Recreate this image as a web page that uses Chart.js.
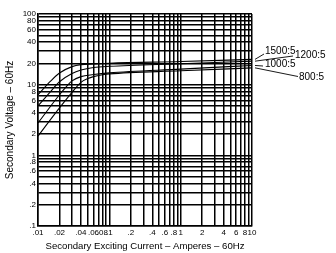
<!DOCTYPE html>
<html>
<head>
<meta charset="utf-8">
<script src="https://cdn.jsdelivr.net/npm/chart.js@4.4.1/dist/chart.umd.min.js"></script>
<style>
  html, body { margin: 0; padding: 0; background: #fff; }
  #chart { display: block; }
</style>
</head>
<body>
<canvas id="chart" width="336" height="253"></canvas>
<script>
    // Series names (CT ratios) and exciting curves
    const seriesNames = ["1500:5", "1200:5", "1000:5", "800:5"];

    const current1500 = [0.01, 0.015, 0.02, 0.03, 0.04, 0.06, 0.1, 1, 10];
    const voltage1500 = [7.2, 11.2, 14.6, 18.0, 19.2, 19.6, 20.1, 21.3, 22.8];

    const current1200 = [0.01, 0.015, 0.02, 0.03, 0.04, 0.06, 0.1, 1, 10];
    const voltage1200 = [5.0, 8.0, 11.0, 14.4, 16.1, 17.5, 18.2, 19.8, 21.5];

    const current1000 = [0.01, 0.02, 0.025, 0.03, 0.04, 0.06, 0.1, 1, 10];
    const voltage1000 = [2.87, 7.2, 9.4, 11.3, 13.0, 13.9, 14.7, 16.6, 18.7];

    const current800 = [0.01, 0.02, 0.03, 0.04, 0.05, 0.06, 0.08, 0.1, 1, 10];
    const voltage800 = [1.87, 4.7, 7.8, 10.8, 12.2, 13.0, 13.8, 14.2, 15.7, 17.3];

    // Tick labels shown on each axis
    const xTickValues = [0.01, 0.02, 0.04, 0.06, 0.08, 0.1, 0.2, 0.4, 0.6, 0.8, 1, 2, 4, 6, 8, 10];
    const xTickLabels = [".01", ".02", ".04", ".06", ".08", ".1", ".2", ".4", ".6", ".8", "1", "2", "4", "6", "8", "10"];
    const yTickValues = [0.1, 0.2, 0.4, 0.6, 0.8, 1, 2, 4, 6, 8, 10, 20, 40, 60, 80, 100];
    const yTickLabels = [".1", ".2", ".4", ".6", ".8", "1", "2", "4", "6", "8", "10", "20", "40", "60", "80", "100"];

    const currents = [current1500, current1200, current1000, current800];
    const voltages = [voltage1500, voltage1200, voltage1000, voltage800];

    const FONT = '"Liberation Sans", Arial, sans-serif';

    // every 1..9 line of each decade
    function logGrid(min, max) {
        const out = [];
        for (let d = min; d < max * 0.999; d *= 10) {
            for (let m = 1; m < 10; m++) out.push(+(d * m).toPrecision(3));
        }
        out.push(max);
        return out;
    }

    function labelFor(v, values, labels) {
        const i = values.findIndex(t => Math.abs(t - v) / t < 1e-6);
        return i >= 0 ? labels[i] : "";
    }

    // Ratio labels with leader lines at the right of the plot
    const seriesLabels = {
        id: "seriesLabels",
        afterDraw(chart) {
            const ctx = chart.ctx;
            const yS = chart.scales.y;
            const r = chart.chartArea.right;
            const t = chart.chartArea.top;
            // [text x, text y, leader start x, leader start y]
            const pos = [
                [r + 13, t + 37, r + 12, t + 40],
                [r + 43, t + 41, r + 41, t + 42],
                [r + 13, t + 50.5, r + 11, t + 52],
                [r + 47, t + 63, r + 46, t + 62.5],
            ];
            ctx.save();
            ctx.font = "10px " + FONT;
            ctx.fillStyle = "#000";
            ctx.strokeStyle = "#000";
            ctx.lineWidth = 0.9;
            ctx.textBaseline = "middle";
            ctx.textAlign = "left";
            seriesNames.forEach((name, i) => {
                const v = voltages[i];
                const yEnd = yS.getPixelForValue(v[v.length - 1]);
                const p = pos[i];
                ctx.beginPath();
                ctx.moveTo(p[2], p[3]);
                ctx.lineTo(r + 3, yEnd);
                ctx.stroke();
                ctx.fillText(name, p[0], p[1]);
            });
            ctx.restore();
        }
    };

    const ctx = document.getElementById("chart").getContext("2d");

    new Chart(ctx, {
        type: "line",
        data: {
            datasets: seriesNames.map((name, i) => ({
                label: name,
                data: currents[i].map((x, j) => ({ x: x, y: voltages[i][j] })),
                borderColor: "#000",
                borderWidth: 1.1,
                pointRadius: 0,
                fill: false,
                cubicInterpolationMode: "monotone",
            })),
        },
        options: {
            responsive: false,
            animation: false,
            layout: { padding: { left: 0, right: 84, top: 14, bottom: 0 } },
            plugins: {
                legend: { display: false },
                title: { display: false },
                tooltip: { enabled: false },
            },
            scales: {
                x: {
                    type: "logarithmic",
                    min: 0.01,
                    max: 10,
                    afterBuildTicks: s => { s.ticks = logGrid(0.01, 10).map(v => ({ value: v })); },
                    afterFit: s => { s.height = 27; },
                    ticks: {
                        autoSkip: false,
                        maxRotation: 0,
                        padding: 2,
                        color: "#000",
                        font: { family: FONT, size: 8 },
                        callback: v => labelFor(v, xTickValues, xTickLabels),
                    },
                    grid: { color: "#000", lineWidth: 1.5, drawTicks: false },
                    border: { color: "#000", width: 1.5 },
                    title: {
                        display: true,
                        text: "Secondary Exciting Current – Amperes – 60Hz",
                        color: "#000",
                        font: { family: FONT, size: 9.6 },
                        padding: { top: 0, bottom: 1 },
                    },
                },
                y: {
                    type: "logarithmic",
                    min: 0.1,
                    max: 100,
                    afterBuildTicks: s => { s.ticks = logGrid(0.1, 100).map(v => ({ value: v })); },
                    afterFit: s => { s.width = 38; },
                    ticks: {
                        autoSkip: false,
                        padding: 2,
                        color: "#000",
                        font: { family: FONT, size: 8 },
                        callback: v => labelFor(v, yTickValues, yTickLabels),
                    },
                    grid: { color: "#000", lineWidth: 1.5, drawTicks: false },
                    border: { color: "#000", width: 1.5 },
                    title: {
                        display: true,
                        text: "Secondary Voltage – 60Hz",
                        color: "#000",
                        font: { family: FONT, size: 10 },
                        padding: { top: 4, bottom: 0 },
                    },
                },
            },
        },
        plugins: [seriesLabels],
    });
</script>
</body>
</html>
